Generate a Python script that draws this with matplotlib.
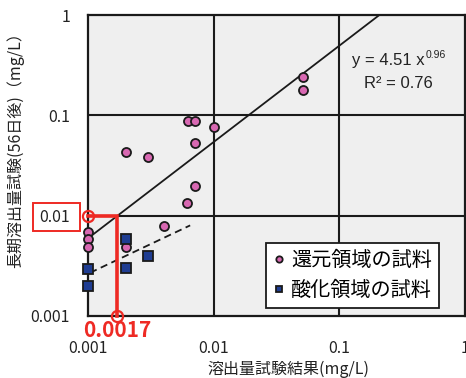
import matplotlib
matplotlib.use("Agg")
import matplotlib.pyplot as plt
from matplotlib.patches import Rectangle
import numpy as np

plt.rcParams['font.family'] = ['Noto Sans CJK JP', 'DejaVu Sans']

# Data
red_x = [0.001, 0.001, 0.001, 0.002, 0.002, 0.003, 0.00402, 0.00613, 0.00625,
         0.0071, 0.0071, 0.0071, 0.01, 0.051, 0.051]
red_y = [0.00693, 0.0059, 0.00492, 0.0434, 0.00492, 0.0386, 0.00795, 0.01346, 0.088,
         0.088, 0.0532, 0.0199, 0.0769, 0.241, 0.179]
blue_x = [0.001, 0.001, 0.002, 0.002, 0.003]
blue_y = [0.00297, 0.00197, 0.0059, 0.0030, 0.0040]

fit_a, fit_b = 4.51, 0.96
fit_x_range = [0.001, 0.208]
dash_x = [0.00104, 0.0065]
dash_y = [0.0027, 0.0080]

ticks = [0.001, 0.01, 0.1, 1]
tick_labels = ['0.001', '0.01', '0.1', '1']

mark_x = 0.0017
mark_y = 0.01

legend_labels = ['還元領域の試料', '酸化領域の試料']
xlabel = '溶出量試験結果(mg/L)'
ylabel = '長期溶出量試験(56日後)（mg/L）'
eq_main = 'y = 4.51 x'
eq_exp = '0.96'
r2_text = 'R² = 0.76'

pink = '#d868b2'
blue = '#1f3d92'

W, H = 466, 378
fig = plt.figure(figsize=(W / 100, H / 100), dpi=100)
ax = fig.add_axes([88 / W, 1 - 316 / H, 377 / W, 301 / H])
ax.set_facecolor('#efefef')
ax.set_xscale('log')
ax.set_yscale('log')
ax.set_xlim(0.001, 1)
ax.set_ylim(0.001, 1)

ax.set_xticks(ticks)
ax.set_xticklabels(tick_labels)
ax.set_yticks(ticks)
ax.set_yticklabels(tick_labels)
ax.minorticks_off()
ax.tick_params(axis='both', length=0, labelsize=11.5, colors='#222222')
ax.tick_params(axis='x', pad=17)
ax.tick_params(axis='y', pad=13)

for gx in ticks[1:-1]:
    ax.axvline(gx, color='#1a1a1a', lw=1.5, zorder=1)
    ax.axhline(gx, color='#1a1a1a', lw=1.5, zorder=1)
for s in ax.spines.values():
    s.set_color('#1a1a1a')
    s.set_linewidth(1.6)

# trend line
fx = np.array(fit_x_range)
ax.plot(fx, fit_a * fx ** fit_b, color='#1a1a1a', lw=1.3, zorder=2)
ax.plot(dash_x, dash_y, color='#1a1a1a', lw=1.3, ls=(0, (4, 2.5)), zorder=2)

ax.plot(red_x, red_y, 'o', color=pink, mec='#1a1a1a', mew=1.3, ms=6.5,
        ls='none', clip_on=False, zorder=4, label=legend_labels[0])
ax.plot(blue_x, blue_y, 's', color=blue, mec='#1a1a1a', mew=1.3, ms=6.5,
        ls='none', clip_on=False, zorder=4, label=legend_labels[1])

# red annotation
ax.plot([0.001, mark_x, mark_x], [mark_y, mark_y, 0.001], color='#ee2a24', lw=2.6,
        clip_on=False, zorder=5, solid_joinstyle='miter')
ax.plot([0.001, mark_x], [mark_y, 0.001], 'o', mfc='none', mec='#ee2a24', mew=1.6,
        ms=8, clip_on=False, zorder=6)
ax.annotate('0.0017', xy=(mark_x, 0.001), xytext=(0, -3), textcoords='offset points',
            color='#ee2a24', fontsize=15, fontweight='bold', ha='center', va='top',
            annotation_clip=False)
fig.add_artist(Rectangle((33 / W, 1 - 231 / H), 47 / W, 28 / H, fill=False,
                         edgecolor='#ee2a24', lw=1.4, transform=fig.transFigure))

# equation
fig.text(425 / W, 1 - 60 / H, eq_main, fontsize=12, ha='right', va='center',
         color='#222222', family='Liberation Sans')
fig.text(426 / W, 1 - 55 / H, eq_exp, fontsize=7.5, ha='left', va='center',
         color='#222222', family='Liberation Sans')
fig.text(398 / W, 1 - 84 / H, r2_text, fontsize=12, ha='center', va='center',
         color='#222222', family='Liberation Sans')

leg = ax.legend(loc='upper left', bbox_to_anchor=((266 - 88) / 377, (316 - 243) / 301),
                fontsize=14.5, frameon=True, fancybox=False, edgecolor='#1a1a1a',
                framealpha=1, handlelength=0.6, handletextpad=0.3, borderpad=0.35,
                labelspacing=0.45, markerscale=0.7, borderaxespad=0)
leg.get_frame().set_linewidth(1.3)
leg.set_zorder(7)

fig.text(288 / W, 1 - 369 / H, xlabel, fontsize=11.5, ha='center', va='center',
         color='#222222')
fig.text(15 / W, 1 - 146 / H, ylabel, fontsize=11.5, ha='center', va='center',
         rotation=90, color='#222222')

fig.savefig('out.png', dpi=100)
